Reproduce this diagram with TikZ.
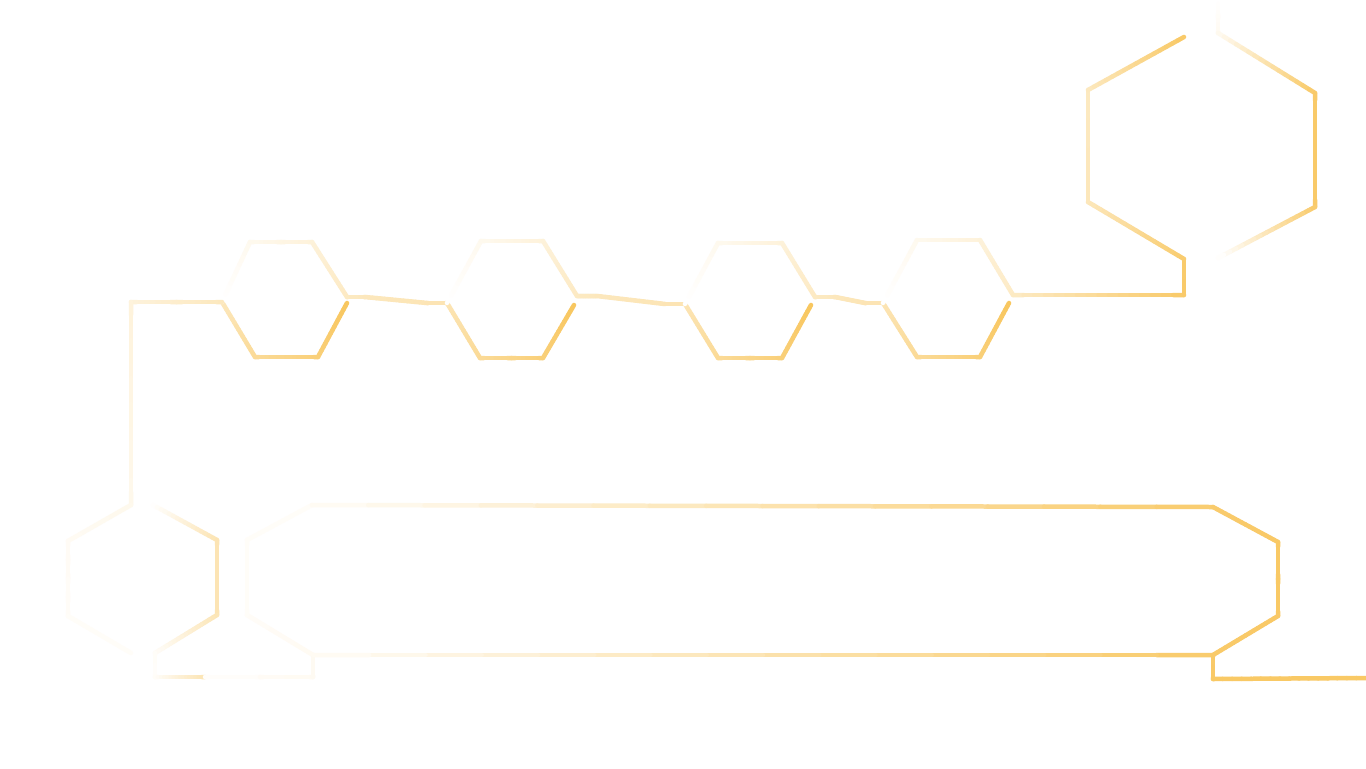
\documentclass[tikz,border=0pt]{standalone}
\usetikzlibrary{calc}

\definecolor{gold}{RGB}{248,196,88}

% one straight piece, shaded from #3 to #4 percent of gold
\newcommand\gradseg[4]{%
  \foreach \k in {1,...,16}{%
    \pgfmathsetmacro\fa{(\k-1)/16}%
    \pgfmathsetmacro\fb{\k/16}%
    \pgfmathtruncatemacro\pc{#3+(#4-#3)*(\k-0.5)/16}%
    \draw[hexline, draw=gold!\pc!white] ($#1!\fa!#2$) -- ($#1!\fb!#2$);%
  }}
% a polyline given as x/y/percent
\newcommand\gradpath[1]{%
  \foreach \x/\y/\p [count=\i, remember=\x as \lx (initially 0),
      remember=\y as \ly (initially 0), remember=\p as \lp (initially 0)] in {#1}{%
    \ifnum\i>1 \gradseg{(\lx,\ly)}{(\x,\y)}{\lp}{\p}\fi
  }}

\begin{document}
\begin{tikzpicture}[x=0.02cm, y=-0.02cm,
    hexline/.style={line width=0.09cm, line cap=round}]
    \fill[white] (0,0) rectangle (1366,768);
    \useasboundingbox (0,0) rectangle (1366,768);
    % small hexagons, lower halves
    \gradpath{222/302/40, 255/357/62, 318/357/80, 347/303/96}
    \gradpath{447/303/45, 480/358/62, 543/358/80, 574/305/96}
    \gradpath{685/304/45, 718/358/62, 782/358/80, 811/305/96}
    \gradpath{883/303/45, 917/357/62, 980/357/80, 1009/303/96}
    % small hexagons, upper halves and links
    \gradpath{222/302/0, 250/242/10, 312/242/22, 347/297/36, 365/297/40, 427/303/45, 447/303/45}
    \gradpath{447/303/0, 481/241/10, 543/241/22, 577/296/36, 597/296/40, 665/304/45, 685/304/45}
    \gradpath{685/304/0, 718/243/10, 782/243/22, 815/297/36, 835/297/40, 865/303/45, 883/303/45}
    \gradpath{883/303/0, 917/240/10, 980/240/22, 1013/295/35, 1184/295/90, 1184/259/88, 1088/202/42, 1088/90/38, 1184/37/92}
    % big hexagon, right half
    \gradpath{1218/0/0, 1218/33/8, 1315/93/90, 1315/207/90, 1218/258/0}
    % left link and lower left hexagon
    \gradpath{222/302/40, 131/302/22, 131/505/12, 68/541/7, 68/616/5, 131/653/4}
    \gradpath{153/505/0, 217/540/45, 217/615/45, 155/653/5, 155/677/3, 205/677/45}
    \gradpath{205/677/3, 260/677/3}
    % long box
    \gradpath{260/677/6, 313/677/8, 313/655/8, 247/615/5, 247/540/4, 312/505/5, 1213/507/88, 1278/542/92, 1278/616/92, 1213/655/90, 313/655/5}
    \gradpath{1213/655/90, 1213/679/92, 1366/678/92}
\end{tikzpicture}
\end{document}
